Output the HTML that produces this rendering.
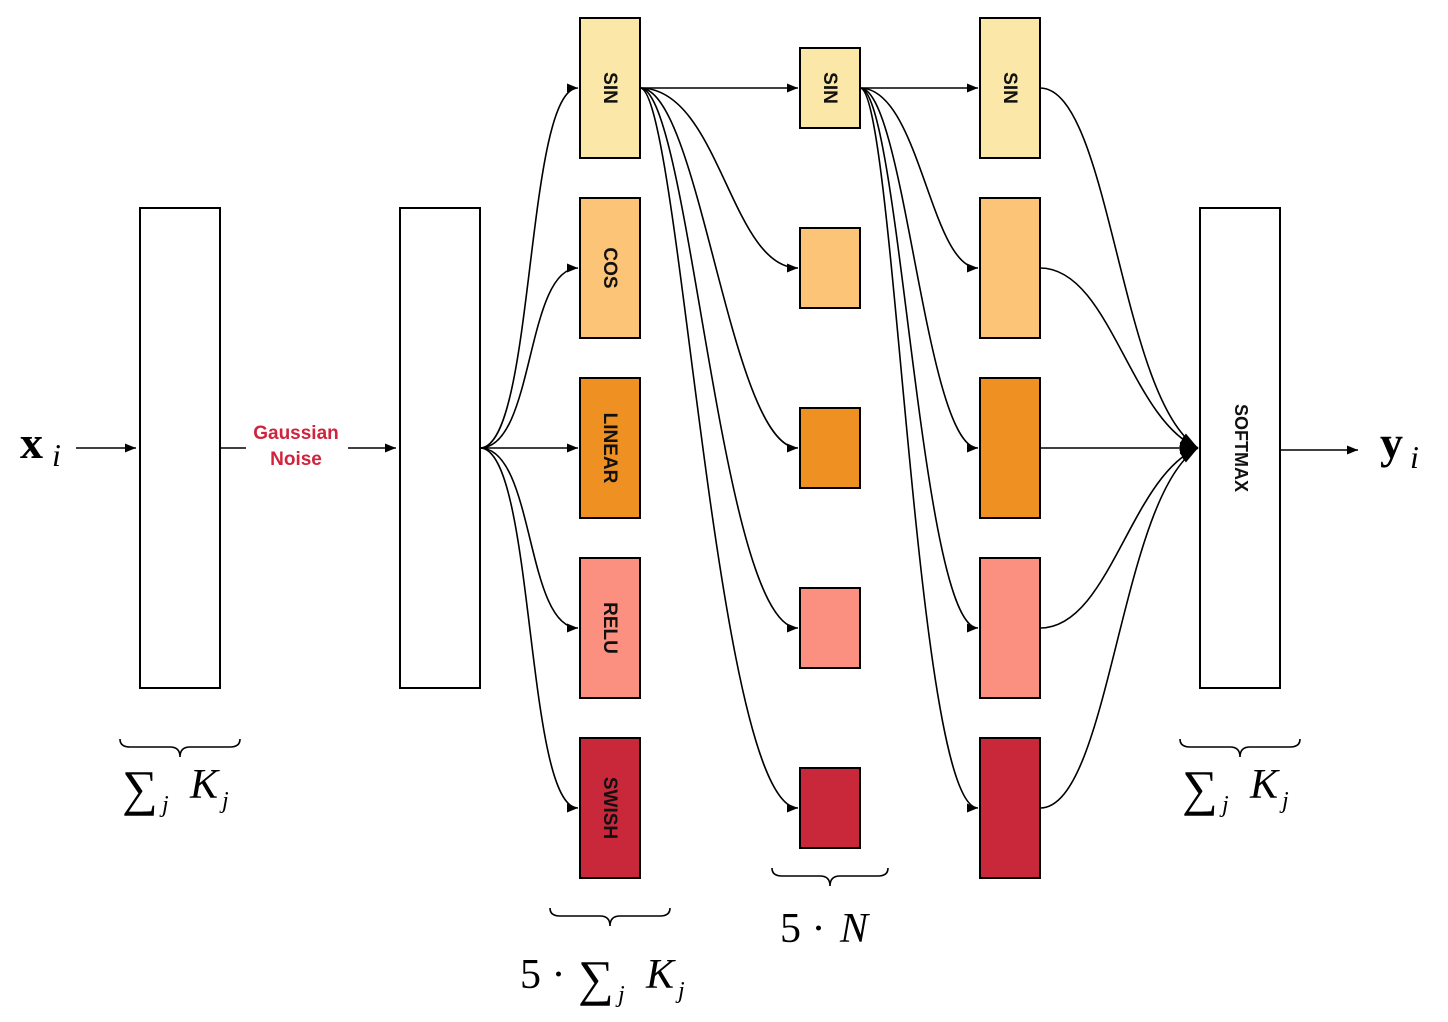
<!DOCTYPE html>
<html><head><meta charset="utf-8"><style>
html,body{margin:0;padding:0;background:#fff;}
svg{display:block;}
.b{stroke:#000;stroke-width:2;}
.e{fill:none;stroke:#000;stroke-width:1.6;}
.lbl{font-family:"Liberation Sans",sans-serif;font-weight:bold;font-size:19px;fill:#111;}
.m{font-family:"Liberation Serif",serif;fill:#000;}
</style></head><body>
<svg width="1448" height="1022" viewBox="0 0 1448 1022" xmlns="http://www.w3.org/2000/svg">
<defs>
<marker id="a" viewBox="0 0 10 10" refX="10" refY="5" markerWidth="11" markerHeight="9" markerUnits="userSpaceOnUse" orient="auto" preserveAspectRatio="none"><path d="M0,0L10,5L0,10z" fill="#000"/></marker>
<marker id="a2" viewBox="0 0 10 10" refX="10" refY="5" markerWidth="18" markerHeight="12" markerUnits="userSpaceOnUse" orient="auto" preserveAspectRatio="none"><path d="M0,0L10,5L0,10z" fill="#000"/></marker>
</defs>

<!-- big boxes -->
<rect x="140" y="208" width="80" height="480" fill="#fff" class="b"/>
<rect x="400" y="208" width="80" height="480" fill="#fff" class="b"/>
<rect x="1200" y="208" width="80" height="480" fill="#fff" class="b"/>

<!-- input -->
<text x="20" y="458" class="m" font-size="46" font-weight="bold">x</text>
<text x="52" y="466" class="m" font-size="32" font-style="italic">i</text>
<path d="M76,448H136" class="e" marker-end="url(#a)"/>
<path d="M220,448H246" class="e"/>
<path d="M348,448H396" class="e" marker-end="url(#a)"/>
<text x="296" y="439" text-anchor="middle" font-family="Liberation Sans,sans-serif" font-weight="bold" font-size="19" fill="#d0243e">Gaussian</text>
<text x="296" y="465" text-anchor="middle" font-family="Liberation Sans,sans-serif" font-weight="bold" font-size="19" fill="#d0243e">Noise</text>

<!-- edges B -> col1 -->
<path d="M480,448C535,448 525,88 578,88" class="e" marker-end="url(#a)"/>
<path d="M480,448C535,448 525,268 578,268" class="e" marker-end="url(#a)"/>
<path d="M480,448H578" class="e" marker-end="url(#a)"/>
<path d="M480,448C535,448 525,628 578,628" class="e" marker-end="url(#a)"/>
<path d="M480,448C535,448 525,808 578,808" class="e" marker-end="url(#a)"/>

<!-- col1 SIN -> col2 -->
<path d="M640,88H798" class="e" marker-end="url(#a)"/>
<path d="M640,88C720,88 730,268 798,268" class="e" marker-end="url(#a)"/>
<path d="M640,88C700,88 730,448 798,448" class="e" marker-end="url(#a)"/>
<path d="M640,88C690,88 720,628 798,628" class="e" marker-end="url(#a)"/>
<path d="M640,88C680,88 715,808 798,808" class="e" marker-end="url(#a)"/>

<!-- col2 SIN -> col3 -->
<path d="M860,88H978" class="e" marker-end="url(#a)"/>
<path d="M860,88C920,88 930,268 978,268" class="e" marker-end="url(#a)"/>
<path d="M860,88C905,88 925,448 978,448" class="e" marker-end="url(#a)"/>
<path d="M860,88C900,88 920,628 978,628" class="e" marker-end="url(#a)"/>
<path d="M860,88C895,88 915,808 978,808" class="e" marker-end="url(#a)"/>

<!-- col3 -> softmax -->
<path d="M1040,88C1110,88 1120,400 1198,448" class="e" marker-end="url(#a2)"/>
<path d="M1040,268C1110,268 1130,420 1198,448" class="e" marker-end="url(#a2)"/>
<path d="M1040,448H1198" class="e" marker-end="url(#a2)"/>
<path d="M1040,628C1110,628 1130,476 1198,448" class="e" marker-end="url(#a2)"/>
<path d="M1040,808C1110,808 1120,496 1198,448" class="e" marker-end="url(#a2)"/>

<!-- col1 -->
<rect x="580" y="18" width="60" height="140" fill="#fbe8a8" class="b"/>
<rect x="580" y="198" width="60" height="140" fill="#fbc476" class="b"/>
<rect x="580" y="378" width="60" height="140" fill="#ef9022" class="b"/>
<rect x="580" y="558" width="60" height="140" fill="#fc9080" class="b"/>
<rect x="580" y="738" width="60" height="140" fill="#c9283b" class="b"/>
<text class="lbl" transform="translate(604,88) rotate(90)" text-anchor="middle">SIN</text>
<text class="lbl" transform="translate(604,268) rotate(90)" text-anchor="middle">COS</text>
<text class="lbl" transform="translate(604,448) rotate(90)" text-anchor="middle">LINEAR</text>
<text class="lbl" transform="translate(604,628) rotate(90)" text-anchor="middle">RELU</text>
<text class="lbl" transform="translate(604,808) rotate(90)" text-anchor="middle">SWISH</text>

<!-- col2 -->
<rect x="800" y="48" width="60" height="80" fill="#fbe8a8" class="b"/>
<rect x="800" y="228" width="60" height="80" fill="#fbc476" class="b"/>
<rect x="800" y="408" width="60" height="80" fill="#ef9022" class="b"/>
<rect x="800" y="588" width="60" height="80" fill="#fc9080" class="b"/>
<rect x="800" y="768" width="60" height="80" fill="#c9283b" class="b"/>
<text class="lbl" transform="translate(824,88) rotate(90)" text-anchor="middle">SIN</text>

<!-- col3 -->
<rect x="980" y="18" width="60" height="140" fill="#fbe8a8" class="b"/>
<rect x="980" y="198" width="60" height="140" fill="#fbc476" class="b"/>
<rect x="980" y="378" width="60" height="140" fill="#ef9022" class="b"/>
<rect x="980" y="558" width="60" height="140" fill="#fc9080" class="b"/>
<rect x="980" y="738" width="60" height="140" fill="#c9283b" class="b"/>
<text class="lbl" transform="translate(1004,88) rotate(90)" text-anchor="middle">SIN</text>

<text transform="translate(1235,448) rotate(90)" text-anchor="middle" font-family="Liberation Sans,sans-serif" font-weight="bold" font-size="18" fill="#111">SOFTMAX</text>

<!-- output -->
<path d="M1280,450H1358" class="e" marker-end="url(#a)"/>
<text x="1380" y="458" class="m" font-size="46" font-weight="bold">y</text>
<text x="1410" y="468" class="m" font-size="32" font-style="italic">i</text>

<!-- braces -->
<g class="e" stroke-width="1.5">
<path d="M120,739q0,8 10,8h40q10,0 10,10q0,-10 10,-10h40q10,0 10,-8"/>
<path d="M1180,739q0,8 10,8h40q10,0 10,10q0,-10 10,-10h40q10,0 10,-8"/>
<path d="M550,908q0,8 10,8h40q10,0 10,10q0,-10 10,-10h40q10,0 10,-8"/>
<path d="M772,868q0,8 10,8h38q10,0 10,10q0,-10 10,-10h38q10,0 10,-8"/>
</g>
<g class="m">
<text x="122" y="805" font-size="50">∑</text><text x="162" y="812" font-size="24" font-style="italic">j</text><text x="190" y="798" font-size="42" font-style="italic">K</text><text x="222" y="808" font-size="24" font-style="italic">j</text>
<text x="1182" y="805" font-size="50">∑</text><text x="1222" y="812" font-size="24" font-style="italic">j</text><text x="1250" y="798" font-size="42" font-style="italic">K</text><text x="1282" y="808" font-size="24" font-style="italic">j</text>
<text x="520" y="988" font-size="42">5 ·</text><text x="578" y="995" font-size="50">∑</text><text x="618" y="1002" font-size="24" font-style="italic">j</text><text x="646" y="988" font-size="42" font-style="italic">K</text><text x="678" y="998" font-size="24" font-style="italic">j</text>
<text x="780" y="942" font-size="42">5 · </text><text x="840" y="942" font-size="42" font-style="italic">N</text>
</g>
</svg>
</body></html>
